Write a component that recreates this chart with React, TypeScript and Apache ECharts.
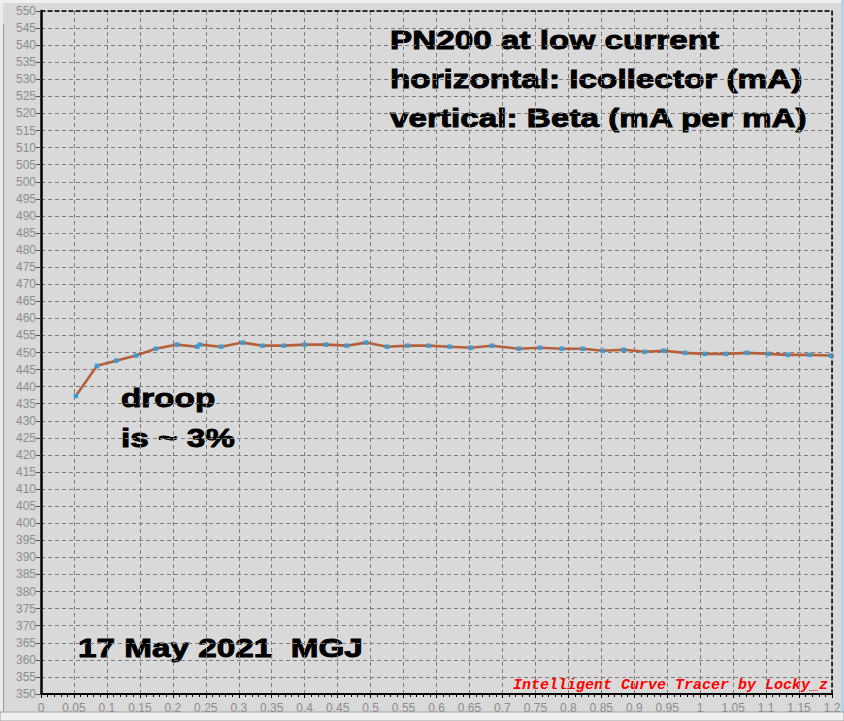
import React, { useEffect, useRef } from "react";
import * as echarts from "echarts";

const icMilliAmp = [0.053, 0.085, 0.114, 0.144, 0.174, 0.206, 0.237, 0.241, 0.273, 0.306, 0.336, 0.368, 0.400, 0.432, 0.464, 0.493, 0.525, 0.556, 0.588, 0.620, 0.652, 0.684, 0.725, 0.757, 0.790, 0.822, 0.852, 0.884, 0.916, 0.945, 0.977, 1.007, 1.039, 1.071, 1.103, 1.133, 1.166, 1.198, 1.225];
const beta = [437.3, 446.1, 447.6, 449.1, 451.1, 452.3, 451.7, 452.3, 451.7, 452.9, 452.0, 452.0, 452.3, 452.3, 452.0, 452.9, 451.7, 452.0, 452.0, 451.7, 451.4, 452.0, 451.1, 451.4, 451.1, 451.1, 450.5, 450.8, 450.2, 450.5, 449.9, 449.6, 449.6, 449.9, 449.6, 449.3, 449.3, 449.1, 448.8];

const titleLines = ["PN200 at low current", "horizontal: Icollector (mA)", "vertical: Beta (mA per mA)"];
const noteLines = ["droop", "is ~ 3%"];
const signature = "17 May 2021  MGJ";
const credit = "Intelligent Curve Tracer by Locky_z";

export default function App() {
  const ref = useRef<HTMLDivElement>(null);
  useEffect(() => {
    if (!ref.current) return;
    const chart = echarts.init(ref.current, null, { renderer: "svg" });
    const bold = { fontFamily: "Liberation Sans, Arial, sans-serif", fontWeight: "bold", fontSize: 26, fill: "#000", stroke: "#000", lineWidth: 0.9 };
    const sx = 1.28;
    const graphics: any[] = [
      { type: "rect", shape: { x: 0, y: 0, width: 844, height: 3 }, style: { fill: "#f0f0f0" }, silent: true },
      { type: "rect", shape: { x: 0, y: 3, width: 3, height: 708 }, style: { fill: "#ececec" }, silent: true },
      { type: "line", shape: { x1: 3.5, y1: 24, x2: 3.5, y2: 711 }, style: { stroke: "#9a9a9a", lineWidth: 1 }, silent: true },
      { type: "rect", shape: { x: 841, y: 0, width: 3, height: 712 }, style: { fill: "#b8d2ea" }, silent: true },
      { type: "rect", shape: { x: 0, y: 712, width: 844, height: 9 }, style: { fill: "#f0f0f0", stroke: "#a0a0a0", lineWidth: 1 }, silent: true },
    ];
    titleLines.forEach((t, i) => {
      graphics.push({ type: "text", x: 390, y: 40 + i * 39, scaleX: sx, style: { ...bold, text: t, verticalAlign: "middle" } });
    });
    noteLines.forEach((t, i) => {
      graphics.push({ type: "text", x: 121, y: 398 + i * 40, scaleX: sx, style: { ...bold, text: t, verticalAlign: "middle" } });
    });
    graphics.push({ type: "text", x: 78, y: 648, scaleX: sx, style: { ...bold, text: signature, verticalAlign: "middle" } });
    graphics.push({
      type: "text", x: 828, y: 685,
      style: { text: credit, fontFamily: "Liberation Mono, Courier New, monospace", fontStyle: "italic", fontWeight: "bold", fontSize: 15, fill: "#ff0000", align: "right", verticalAlign: "middle" },
    });

    const fmt = (v: number) => String(+v.toFixed(2));
    chart.setOption({
      animation: false,
      backgroundColor: "#d9d9d9",
      grid: { left: 41, right: 12, top: 11, bottom: 27 },
      xAxis: [
        {
          type: "value", min: 0, max: 1.2, interval: 0.05,
          axisLine: { show: true, onZero: false, lineStyle: { color: "#000", width: 2 } },
          axisTick: { show: true, length: 4, lineStyle: { color: "#000" } },
          minorTick: { show: true, splitNumber: 5, length: 3, lineStyle: { color: "#000" } },
          axisLabel: { color: "#8c8c8c", fontSize: 12, fontFamily: "Liberation Sans, Arial, sans-serif", margin: 8, formatter: fmt, showMaxLabel: true, showMinLabel: true },
          splitLine: { show: true, lineStyle: { color: "#7c7c7c", type: [4, 3], width: 1 } },
        },
        {
          type: "value", position: "top", min: 0, max: 1.2,
          axisLine: { show: true, onZero: false, lineStyle: { color: "#000", width: 1.5, type: [4, 3] } },
          axisTick: { show: false }, axisLabel: { show: false }, splitLine: { show: false },
        },
      ],
      yAxis: [
        {
          type: "value", min: 350, max: 550, interval: 5,
          axisLine: { show: true, onZero: false, lineStyle: { color: "#000", width: 2.5 } },
          axisTick: { show: true, length: 5, lineStyle: { color: "#555" } },
          axisLabel: { color: "#8c8c8c", fontSize: 12, fontFamily: "Liberation Sans, Arial, sans-serif", margin: 5 },
          splitLine: { show: true, lineStyle: { color: "#7c7c7c", type: [4, 3], width: 1 } },
        },
        {
          type: "value", position: "right", min: 350, max: 550,
          axisLine: { show: true, onZero: false, lineStyle: { color: "#000", width: 1.5, type: [4, 3] } },
          axisTick: { show: false }, axisLabel: { show: false }, splitLine: { show: false },
        },
      ],
      series: [
        {
          type: "line",
          data: icMilliAmp.map((x, i) => [x, beta[i]]),
          clip: false,
          symbol: "rect",
          symbolSize: 4.5,
          showSymbol: true,
          itemStyle: { color: "#3b9bd6", borderWidth: 0 },
          lineStyle: { color: "#b5603a", width: 2.6 },
          z: 3,
        },
      ],
      graphic: graphics,
    });
    return () => chart.dispose();
  }, []);
  return <div ref={ref} style={{ position: "fixed", left: 0, top: 0, width: 844, height: 721 }} />;
}
